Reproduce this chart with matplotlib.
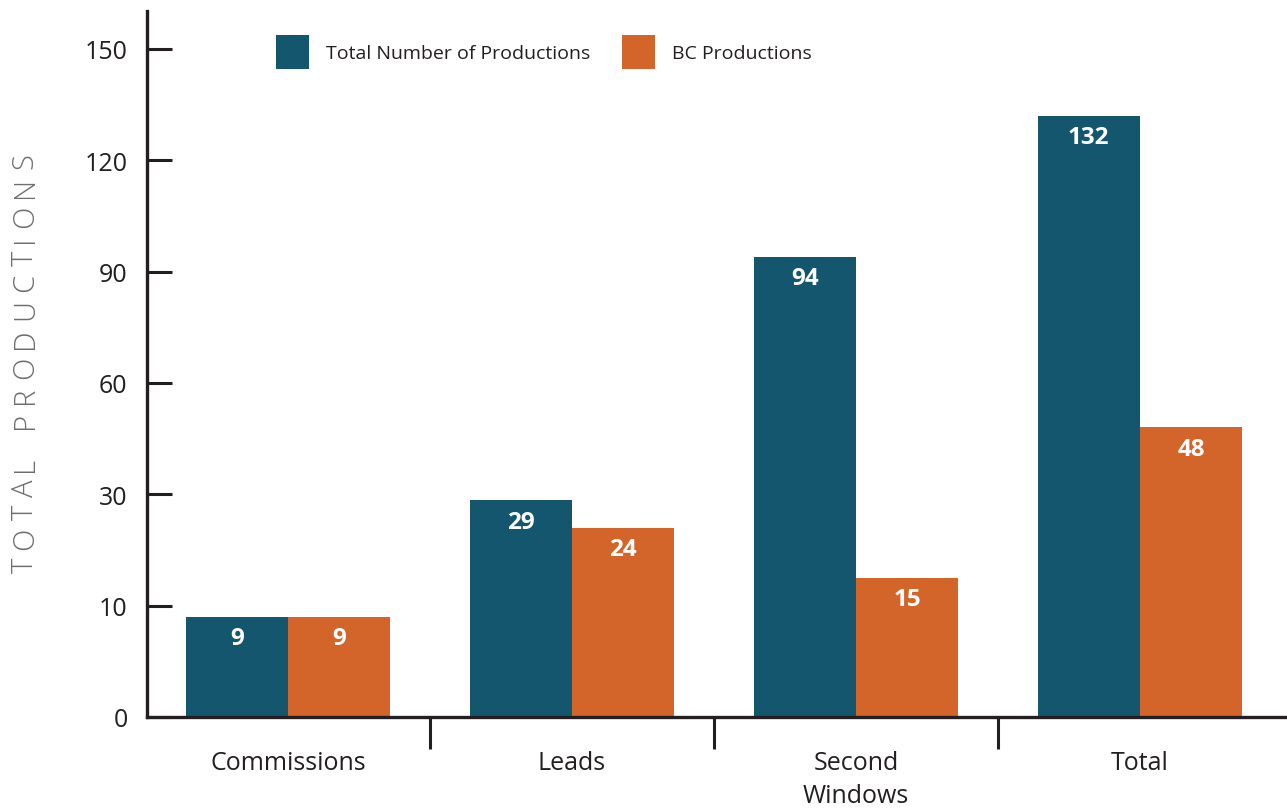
import numpy as np
import matplotlib
matplotlib.use("Agg")
import matplotlib.pyplot as plt

categories = ["Commissions", "Leads", "Second\nWindows", "Total"]
total_productions = [9, 29, 94, 132]
bc_productions = [9, 24, 15, 48]
y_ticks = [0, 10, 30, 60, 90, 120, 150]
y_title = "TOTAL PRODUCTIONS"

BLUE = "#15566F"
ORANGE = "#D4652A"
INK = "#231F20"

plt.rcParams["font.family"] = ["Open Sans", "DejaVu Sans"]

# uneven axis: each tick step gets the same height
knots = [0, 10, 30, 60, 90, 120, 150, 180]
slots = np.arange(len(knots))


def fwd(v):
    return np.interp(v, knots, slots)


def inv(p):
    return np.interp(p, slots, knots)


fig = plt.figure(figsize=(12.87, 8.12), dpi=100)
ax = fig.add_axes([0.1142, 0.1158, 0.8858, 0.8695])
ax.set_yscale("function", functions=(fwd, inv))

x = np.arange(len(categories))
w = 0.36
b1 = ax.bar(x - w / 2, total_productions, w, color=BLUE, label="Total Number of Productions")
b2 = ax.bar(x + w / 2, bc_productions, w, color=ORANGE, label="BC Productions")

for bars, vals in ((b1, total_productions), (b2, bc_productions)):
    for r, v in zip(bars, vals):
        ax.annotate(str(v), (r.get_x() + r.get_width() / 2, v), xytext=(0, -7),
                    textcoords="offset points", ha="center", va="top",
                    color="white", fontsize=17.5, fontweight="bold")

ax.set_xlim(-0.497, 3.518)
ax.set_ylim(0, 160.2)

ax.set_yticks(y_ticks)
ax.set_yticklabels([str(t) for t in y_ticks])
ax.tick_params(axis="y", direction="in", length=18, width=2.2, color=INK,
               pad=14, labelsize=18, labelcolor=INK)

ax.set_xticks(x)
ax.set_xticklabels(categories)
ax.tick_params(axis="x", which="major", length=0, pad=24, labelsize=18, labelcolor=INK)
ax.set_xticks([0.5, 1.5, 2.5], minor=True)
ax.tick_params(axis="x", which="minor", direction="out", length=23, width=2.2, color=INK)
for lab in ax.get_xticklabels():
    lab.set_linespacing(1.4)

for s in ("top", "right"):
    ax.spines[s].set_visible(False)
for s in ("left", "bottom"):
    ax.spines[s].set_linewidth(2.4)
    ax.spines[s].set_color(INK)

# letter-spaced y title, laid out one glyph at a time (bottom -> top)
fig.canvas.draw()
rend = fig.canvas.get_renderer()
H = fig.get_figheight() * fig.dpi
y_lo, y_hi = 573, 153  # pixel rows of the title's ends in the reference
fs = 21
kw = dict(rotation=90, ha="center", va="bottom", fontsize=fs, color="#6D6E71",
          fontweight="light")
glyphs = []
for ch in y_title:
    t = fig.text(0.0195, 0.5, ch, **kw)
    glyphs.append((t, t.get_window_extent(rend).height if ch != " " else fs * 0.6))
n_gaps = len(y_title) - 1
track = ((y_lo - y_hi) - sum(h for _, h in glyphs)) / n_gaps
pos = H - y_lo
for t, h in glyphs:
    t.set_y(pos / H)
    pos += h + track

ax.legend(loc="upper left", bbox_to_anchor=(0.098, 0.99), ncol=2, frameon=False,
          fontsize=14, handlelength=1.7, handleheight=2.24, handletextpad=0.85,
          columnspacing=1.65, labelcolor=INK)

fig.savefig("out.png", dpi=100)
